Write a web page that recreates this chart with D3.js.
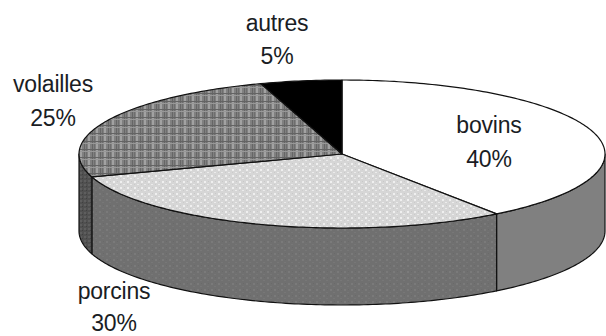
<!DOCTYPE html>
<html>
<head>
<meta charset="utf-8">
<script src="https://cdn.jsdelivr.net/npm/d3@7/dist/d3.min.js"></script>
<style>
html,body{margin:0;padding:0;background:#fff}
svg{display:block}
text{font-family:"Liberation Sans",Arial,sans-serif;font-size:23px;fill:#1a1d24;text-anchor:middle;letter-spacing:-0.2px}
</style>
</head>
<body>
<svg id="chart" width="606" height="336"></svg>
<script>
// Répartition par type d'élevage
const categories = ["bovins", "porcins", "volailles", "autres"];
const shares = [40, 30, 25, 5];
const percentLabels = ["40%", "30%", "25%", "5%"];

const width = 606, height = 336;
const cx = 342, cy = 154, rx = 263, ry = 74, depth = 77;

const svg = d3.select("#chart");
const defs = svg.append("defs");

// Tramed fills, in the manner of an old office-suite pie
function tile(id, w, h, base, marks) {
  const p = defs.append("pattern").attr("id", id)
    .attr("patternUnits", "userSpaceOnUse").attr("width", w).attr("height", h);
  p.append("rect").attr("width", w).attr("height", h).attr("fill", base);
  marks.forEach(m => p.append("rect")
    .attr("x", m[0]).attr("y", m[1]).attr("width", m[2]).attr("height", m[3]).attr("fill", m[4]));
}
tile("tVolaillesTop", 8, 8, "#808080", [
  [0, 0, 2, 8, "#a2a2a2"], [4, 0, 1, 8, "#666666"], [6, 0, 1, 8, "#6e6e6e"],
  [0, 5, 8, 1, "#646464"], [0, 7, 8, 1, "#989898"]
]);
tile("tPorcinsTop", 7, 6, "#d6d6d6", [
  [1, 1, 2, 2, "#efefef"], [4, 4, 2, 1, "#ebebeb"], [5, 1, 1, 1, "#c8c8c8"], [1, 4, 1, 1, "#cacaca"]
]);
tile("tPorcinsWall", 7, 6, "#707070", [
  [1, 1, 2, 2, "#7a7a7a"], [4, 4, 2, 1, "#777777"], [5, 1, 1, 1, "#6a6a6a"]
]);
tile("tVolaillesWall", 4, 4, "#505050", [
  [0, 0, 2, 2, "#5e5e5e"], [2, 2, 1, 1, "#404040"]
]);

const topFills = ["#ffffff", "url(#tPorcinsTop)", "url(#tVolaillesTop)", "#000000"];
const wallFills = ["#808080", "url(#tPorcinsWall)", "url(#tVolaillesWall)", "#000000"];

// Slices run clockwise from twelve o'clock
const slices = d3.pie().sort(null).value(d => d)(shares);
const ex = a => cx + rx * Math.sin(a);
const ey = a => cy - ry * Math.cos(a);
const line = d3.line();

function rimPoints(a0, a1, dy) {
  const n = Math.max(2, Math.ceil(Math.abs(a1 - a0) * 60));
  return d3.range(n + 1).map(i => {
    const a = a0 + (a1 - a0) * i / n;
    return [ex(a), ey(a) + dy];
  });
}

// Side wall: only the part of a slice facing the viewer, i.e. between 90° and 270°
slices.forEach((s, i) => {
  const a0 = Math.max(s.startAngle, Math.PI / 2);
  const a1 = Math.min(s.endAngle, 3 * Math.PI / 2);
  if (a1 <= a0) return;
  const pts = rimPoints(a0, a1, 0).concat(rimPoints(a1, a0, depth));
  svg.append("path").attr("d", line(pts) + "Z")
    .attr("fill", wallFills[i]).attr("stroke", "#111").attr("stroke-width", 1.2)
    .attr("stroke-linejoin", "round");
});

// Top face of each slice
slices.forEach((s, i) => {
  const pts = [[cx, cy]].concat(rimPoints(s.startAngle, s.endAngle, 0));
  svg.append("path").attr("d", line(pts) + "Z")
    .attr("fill", topFills[i]).attr("stroke", "#111").attr("stroke-width", 1.2)
    .attr("stroke-linejoin", "round");
});

// Labels, name above percentage; the bottom one stays clear of the page edge
const labelAt = [[489, 133, 34], [114, 299, 32], [53, 92, 34], [277, 31, 33]];
categories.forEach((c, i) => {
  const g = svg.append("g").attr("transform", `translate(${labelAt[i][0]},${labelAt[i][1]})`);
  g.append("text").text(c);
  g.append("text").attr("y", labelAt[i][2]).text(percentLabels[i]);
});
</script>
</body>
</html>
